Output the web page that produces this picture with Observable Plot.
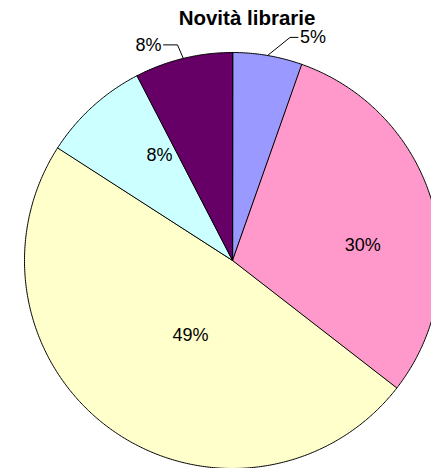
<!DOCTYPE html>
<html>
<head>
<meta charset="utf-8">
<script src="https://cdn.jsdelivr.net/npm/d3@7"></script>
<script src="https://cdn.jsdelivr.net/npm/@observablehq/plot@0.6"></script>
<style>
  html, body { margin: 0; padding: 0; background: #fff; }
  #wrap { position: relative; width: 431px; height: 468px; overflow: hidden; }
  #title { position: absolute; top: 8px; left: 0; width: 494px; text-align: center;
           font: bold 20.5px "Liberation Sans", Arial, sans-serif; line-height: 20px; color: #000; z-index: 2; }
  #wrap svg { position: absolute; top: 0; left: 0; }
</style>
</head>
<body>
<div id="wrap"><div id="title">Novità librarie</div></div>
<script>
// ---- data ----
const titleText = "Novità librarie";
const sliceIds = ["s1", "s2", "s3", "s4", "s5"];
const sliceValues = [5.4, 30.1, 48.6, 8.3, 7.6];
const sliceColors = ["#9999FF", "#FF99CC", "#FFFFCC", "#CCFFFF", "#660066"];
const sliceLabels = sliceValues.map(v => Math.round(v) + "%");

// ---- layout (not data) ----
const insideLayout = { s2: [0.63, 9.8], s3: [0.414, -6.1], s4: [0.615, 7.5] }; // [radius, angle shift deg]
const outsideLayout = { s1: { elbow: [0.108, 0.087], run: 0.038 }, s5: { elbow: [-0.028, 0.065], run: -0.067 } };

const total = d3.sum(sliceValues);
const rad = a => a * Math.PI / 180;
let acc = 0;
const slices = sliceIds.map((id, i) => {
  const a0 = acc / total * 360;
  acc += sliceValues[i];
  const a1 = acc / total * 360;
  return { id, i, a0, a1, mid: (a0 + a1) / 2, label: sliceLabels[i] };
});

const polys = [];
for (const s of slices) {
  polys.push({ id: s.id, x: 0, y: 0 });
  const n = Math.max(2, Math.ceil((s.a1 - s.a0) / 0.5));
  for (let k = 0; k <= n; k++) {
    const a = rad(s.a0 + (s.a1 - s.a0) * k / n);
    polys.push({ id: s.id, x: Math.sin(a), y: Math.cos(a) });
  }
}

const inside = [], outsideText = [], leaders = [];
for (const s of slices) {
  if (insideLayout[s.id]) {
    const [r, sh] = insideLayout[s.id];
    const a = rad(s.mid + sh);
    inside.push({ label: s.label, x: r * Math.sin(a), y: r * Math.cos(a) });
  } else if (outsideLayout[s.id]) {
    const L = outsideLayout[s.id];
    const a = rad(s.mid);
    const ex = Math.sin(a), ey = Math.cos(a);
    const bx = ex + L.elbow[0], by = ey + L.elbow[1];
    const cx = bx + L.run;
    leaders.push({ id: s.id, x: ex, y: ey }, { id: s.id, x: bx, y: by }, { id: s.id, x: cx, y: by });
    outsideText.push({ label: s.label, x: cx, y: by, anchor: L.run > 0 ? "start" : "end" });
  }
}

const font = "'Liberation Sans', Arial, sans-serif";
const chart = Plot.plot({
  width: 431,
  height: 468,
  margin: 0,
  x: { domain: [-232 / 208, 199 / 208], axis: null },
  y: { domain: [-1, 1.25], axis: null },
  color: { domain: sliceIds, range: sliceColors },
  style: { fontFamily: font, background: "#fff", overflow: "visible" },
  marks: [
    Plot.line(polys, { x: "x", y: "y", z: "id", fill: "id", stroke: "#000", strokeWidth: 1, curve: "linear-closed", strokeLinejoin: "round" }),
    Plot.line(leaders, { x: "x", y: "y", z: "id", stroke: "#000", strokeWidth: 1 }),
    Plot.text(inside, { x: "x", y: "y", text: "label", fontSize: 18, fill: "#000" }),
    Plot.text(outsideText.filter(d => d.anchor === "start"), { x: "x", y: "y", text: "label", fontSize: 18, fill: "#000", textAnchor: "start", dx: 2 }),
    Plot.text(outsideText.filter(d => d.anchor === "end"), { x: "x", y: "y", text: "label", fontSize: 18, fill: "#000", textAnchor: "end", dx: -2 })
  ]
});
document.getElementById("title").textContent = titleText;
document.getElementById("wrap").appendChild(chart);
</script>
</body>
</html>
